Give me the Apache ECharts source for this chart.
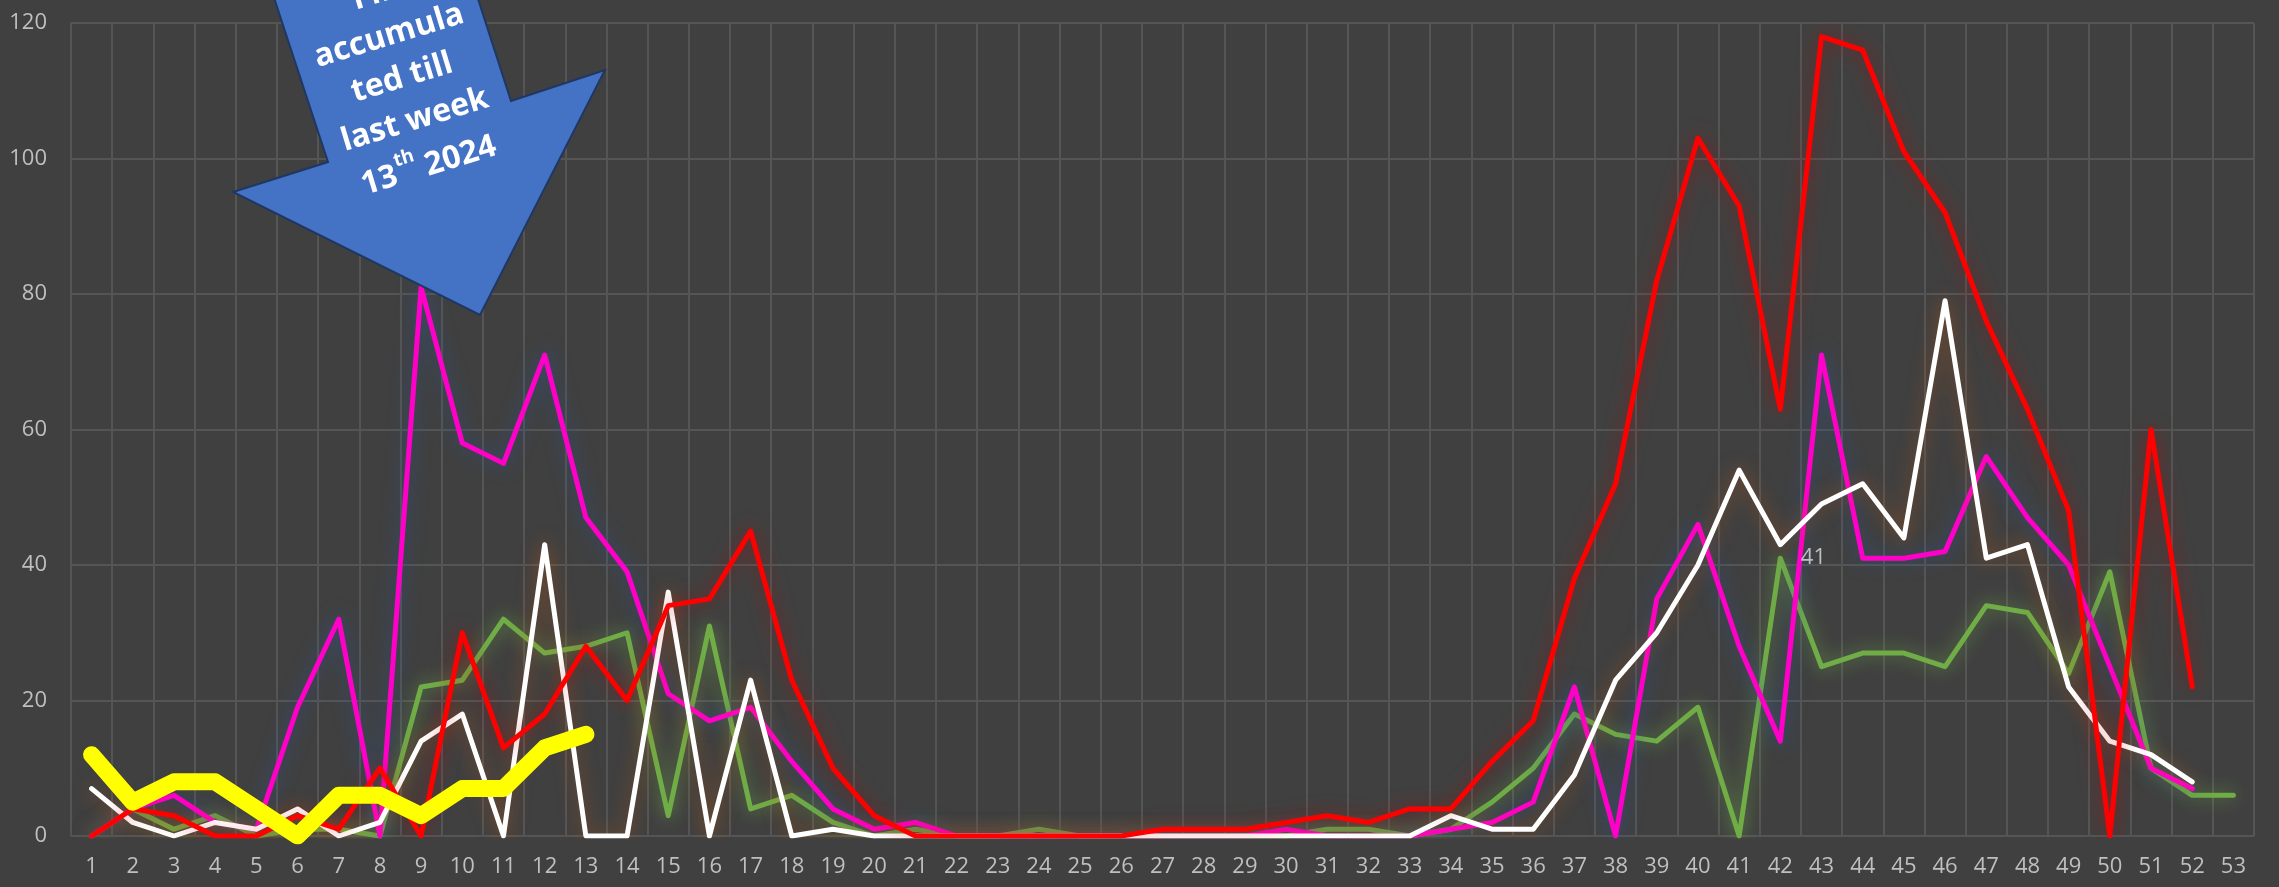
<!DOCTYPE html>
<html>
<head>
<meta charset="utf-8">
<script src="https://cdn.jsdelivr.net/npm/echarts@6/dist/echarts.min.js"></script>
<style>
  html, body { margin: 0; padding: 0; background: #404040; }
  #chart { width: 2279px; height: 887px; }
</style>
</head>
<body>
<div id="chart"></div>
<script>
// weeks 1..53
const weeks = Array.from({ length: 53 }, (_, i) => String(i + 1))

const yTicks = [0, 20, 40, 60, 80, 100, 120]

const greenSeason = [0, 4, 1, 3, 0, 1, 1, 0, 22, 23, 32, 27, 28, 30, 3, 31, 4, 6, 2, 0,
  1, 0, 0, 1, 0, 0, 0, 0, 0, 0, 1, 1, 0, 1, 5, 10, 18, 15, 14, 19,
  0, 41, 25, 27, 27, 25, 34, 33, 24, 39, 10, 6, 6]

const magentaSeason = [0, 4, 6, 2, 1, 19, 32, 0, 81, 58, 55, 71, 47, 39, 21, 17, 19, 11, 4, 1,
  2, 0, 0, 0, 0, 0, 0, 0, 0, 1, 0, 0, 0, 1, 2, 5, 22, 0, 35, 46,
  28, 14, 71, 41, 41, 42, 56, 47, 40, 25, 10, 7, null]

const whiteSeason = [7, 2, 0, 2, 1, 4, 0, 2, 14, 18, 0, 43, 0, 0, 36, 0, 23, 0, 1, 0,
  0, 0, 0, 0, 0, 0, 0, 0, 0, 0, 0, 0, 0, 3, 1, 1, 9, 23, 30, 40,
  54, 43, 49, 52, 44, 79, 41, 43, 22, 14, 12, 8, null]

const redSeason = [0, 4, 3, 0, 0, 3, 1, 10, 0, 30, 13, 18, 28, 20, 34, 35, 45, 23, 10, 3,
  0, 0, 0, 0, 0, 0, 1, 1, 1, 2, 3, 2, 4, 4, 11, 17, 38, 52, 82, 103,
  93, 63, 118, 116, 101, 92, 76, 63, 48, 0, 60, 22, null]

// current season, till week 13
const yellowSeason = [12, 5, 8, 8, 4, 0, 6, 6, 3, 7, 7, 13, 15]

// only one point carries a data label
const labelledWeek = 42

const myChart = echarts.init(document.getElementById('chart'))

const axisText = { color: '#BFBFBF', fontSize: 22, fontFamily: 'Open Sans' }

function lineSeries(name, data, color, width, glow) {
  return {
    name: name,
    type: 'line',
    data: data,
    symbol: 'none',
    connectNulls: false,
    lineStyle: {
      color: color,
      width: width,
      cap: 'round',
      join: 'round',
      shadowColor: glow,
      shadowBlur: glow ? 18 : 0
    },
    itemStyle: { color: color },
    emphasis: { disabled: true },
    silent: true
  }
}

const greenData = greenSeason.map((v, i) =>
  i === labelledWeek - 1
    ? {
        value: v,
        symbol: 'circle',
        symbolSize: 1,
        itemStyle: { color: 'rgba(0,0,0,0)' },
        label: {
          show: true,
          position: 'right',
          distance: 20,
          color: '#BFBFBF',
          fontSize: 22,
          fontFamily: 'Open Sans'
        }
      }
    : v
)

// arrow callout
const arrowPoints = [
  [255, -60], [459, -60], [511, 101], [605, 70],
  [480, 315], [233, 192], [328, 162]
]
const textLines = ['Fin', 'accumula', 'ted till', 'last week', '{n|13}{s|th}{n|2024}']
const lineGap = 44

const greenSeries = lineSeries('green', greenData, '#70AD47', 5, 'rgba(112,173,71,0.75)')
greenSeries.symbol = 'circle'
greenSeries.symbolSize = 0
greenSeries.showAllSymbol = true

let option = {
  backgroundColor: '#404040',
  animation: false,
  grid: {
    left: 71,
    right: 25,
    top: 23,
    bottom: 51
  },
  xAxis: {
    type: 'category',
    data: weeks,
    boundaryGap: true,
    axisTick: { show: false },
    axisLine: { show: true, lineStyle: { color: '#555555', width: 2 } },
    axisLabel: Object.assign({ margin: 20, interval: 0 }, axisText),
    splitLine: { show: true, interval: 0, lineStyle: { color: '#555555', width: 2 } }
  },
  yAxis: {
    type: 'value',
    min: yTicks[0],
    max: yTicks[yTicks.length - 1],
    interval: 20,
    axisLine: { show: false },
    axisTick: { show: false },
    axisLabel: Object.assign({ margin: 24 }, axisText),
    splitLine: { lineStyle: { color: '#555555', width: 2 } }
  },
  series: [
    greenSeries,
    lineSeries('magenta', magentaSeason, '#FF00C8', 5, 'rgba(47,85,151,0.75)'),
    lineSeries('white', whiteSeason, '#FFFFFF', 5, 'rgba(197,90,17,0.55)'),
    lineSeries('red', redSeason, '#FF0000', 5, 'rgba(192,0,0,0.55)'),
    lineSeries('yellow', yellowSeason, '#FFFF00', 17, null)
  ],
  graphic: [
    {
      type: 'polygon',
      z: 100,
      shape: { points: arrowPoints },
      style: { fill: '#4472C4', stroke: '#1F3763', lineWidth: 2 }
    },
    {
      type: 'group',
      z: 101,
      x: 402,
      y: 78,
      rotation: (17 * Math.PI) / 180,
      children: textLines.map((t, i) => ({
        type: 'text',
        z: 101,
        x: 0,
        y: (i - 2) * lineGap,
        style: {
          text: t,
          fill: '#FFFFFF',
          font: 'bold 32px "Open Sans"',
          align: 'center',
          verticalAlign: 'middle',
          rich: {
            n: { fontSize: 32, fontWeight: 'bold', fontFamily: 'Open Sans', fill: '#FFFFFF', verticalAlign: 'bottom', lineHeight: 40 },
            s: { fontSize: 19, fontWeight: 'bold', fontFamily: 'Open Sans', fill: '#FFFFFF', verticalAlign: 'top', lineHeight: 40, padding: [0, 8, 0, 1] }
          }
        }
      }))
    }
  ]
}

myChart.setOption(option)
</script>
</body>
</html>
